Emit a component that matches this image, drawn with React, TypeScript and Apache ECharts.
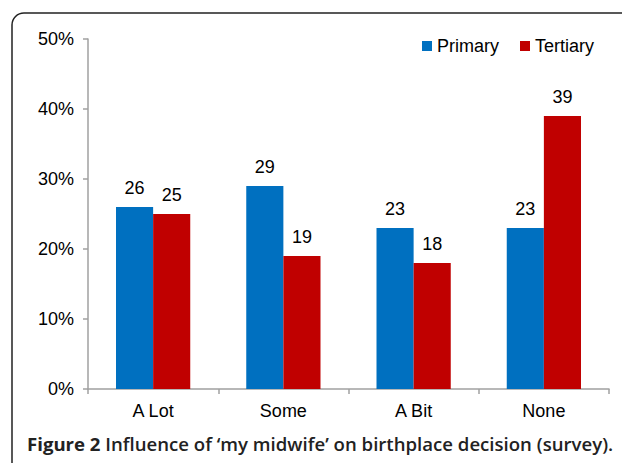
import React, { useEffect, useRef } from "react";
import * as echarts from "echarts";

const categories = ["A Lot", "Some", "A Bit", "None"];
const primary = [26, 29, 23, 23];
const tertiary = [25, 19, 18, 39];
const seriesNames = ["Primary", "Tertiary"];
const captionBold = "Figure 2";
const captionRest = " Influence of ‘my midwife’ on birthplace decision (survey).";

export default function App() {
  const ref = useRef<HTMLDivElement>(null);
  useEffect(() => {
    document.body.style.margin = "0";
    const chart = echarts.init(ref.current!, null, { renderer: "svg" });
    const font = "'Liberation Sans', Arial, sans-serif";
    const labelCommon = {
      show: true,
      position: "top" as const,
      distance: 10,
      fontSize: 18,
      fontFamily: font,
      color: "#000",
    };
    chart.setOption({
      animation: false,
      backgroundColor: "#fff",
      textStyle: { fontFamily: font },
      grid: { left: 88, right: 13, top: 39, bottom: 74, containLabel: false },
      legend: {
        data: seriesNames,
        right: 23,
        top: 32,
        itemWidth: 10,
        itemHeight: 10,
        itemGap: 21,
        icon: "rect",
        textStyle: { fontSize: 18, fontFamily: font, color: "#000", padding: [0, 0, 0, 0] },
      },
      xAxis: {
        type: "category",
        data: categories,
        axisLine: { lineStyle: { color: "#a0a0a0", width: 1.5 } },
        axisTick: { show: true, length: 5, lineStyle: { color: "#a0a0a0", width: 1.5 } },
        axisLabel: { fontSize: 18, fontFamily: font, color: "#000", margin: 13 },
      },
      yAxis: {
        type: "value",
        min: 0,
        max: 50,
        interval: 10,
        axisLine: { show: true, lineStyle: { color: "#a0a0a0", width: 1.5 } },
        axisTick: { show: true, length: 5, lineStyle: { color: "#a0a0a0", width: 1.5 } },
        splitLine: { show: false },
        axisLabel: {
          fontSize: 18,
          fontFamily: font,
          color: "#000",
          margin: 14,
          formatter: (v: number) => v + "%",
        },
      },
      series: [
        {
          name: seriesNames[0],
          type: "bar",
          data: primary,
          barGap: "0%",
          barCategoryGap: "43%",
          itemStyle: { color: "#0070C0" },
          label: labelCommon,
        },
        {
          name: seriesNames[1],
          type: "bar",
          data: tertiary,
          barGap: "0%",
          barCategoryGap: "43%",
          itemStyle: { color: "#C00000" },
          label: labelCommon,
        },
      ],
      graphic: [
        {
          type: "rect",
          shape: { x: 12, y: 13, width: 700, height: 600, r: 12 },
          style: { fill: "none", stroke: "#222", lineWidth: 1.5 },
          silent: true,
        },
        {
          type: "text",
          left: 27,
          top: 434,
          style: {
            text: "{b|" + captionBold + "}{r|" + captionRest + "}",
            rich: {
              b: { fontFamily: "'Open Sans', sans-serif", fontWeight: 700, fontSize: 18.6, fill: "#222" },
              r: { fontFamily: "'Open Sans', sans-serif", fontWeight: 600, fontSize: 18.6, fill: "#222" },
            },
          },
        },
      ],
    });
    return () => chart.dispose();
  }, []);
  return <div ref={ref} style={{ width: 622, height: 463 }} />;
}
